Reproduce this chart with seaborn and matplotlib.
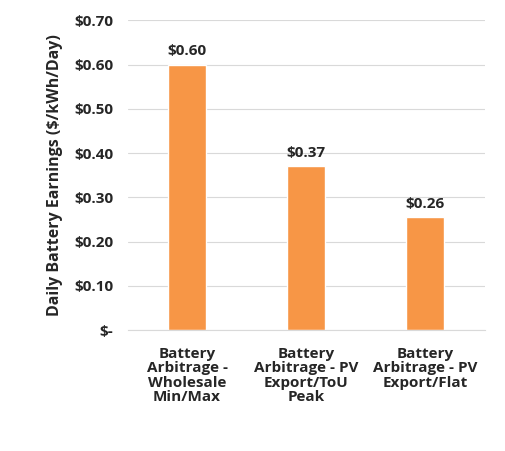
import seaborn as sns
import pandas as pd
import matplotlib.pyplot as plt
from matplotlib.ticker import FuncFormatter

categories = ['Battery\nArbitrage -\nWholesale\nMin/Max',
              'Battery\nArbitrage - PV\nExport/ToU\nPeak',
              'Battery\nArbitrage - PV\nExport/Flat']
earnings = [0.60, 0.37, 0.255]
labels = ['$0.60', '$0.37', '$0.26']

sns.set_style('white')
plt.rcParams['font.family'] = ['Open Sans', 'DejaVu Sans']

df = pd.DataFrame({'cat': categories, 'val': earnings})

fig = plt.figure(figsize=(5.06, 4.51), dpi=100)
ax = fig.add_axes([0.252, 0.268, 0.706, 0.687])

sns.barplot(data=df, x='cat', y='val', color='#F79646', saturation=1,
            width=0.32, ax=ax)

for i, (v, t) in enumerate(zip(earnings, labels)):
    ax.text(i, v + 0.015, t, ha='center', va='bottom', fontsize=11,
            fontweight='bold', color='#262626')

ax.set_ylim(0, 0.70)
ax.set_yticks([0, 0.1, 0.2, 0.3, 0.4, 0.5, 0.6, 0.7])
ax.yaxis.set_major_formatter(FuncFormatter(lambda y, _: '$-' if y == 0 else f'${y:.2f}'))
ax.grid(axis='y', color='#d9d9d9', linewidth=0.8)
ax.set_axisbelow(True)
for s in ['top', 'right', 'left']:
    ax.spines[s].set_visible(False)
ax.spines['bottom'].set_color('#d9d9d9')

ax.set_xlabel('')
ax.set_ylabel('Daily Battery Earnings ($/kWh/Day)', fontsize=11.5,
              fontweight='bold', color='#262626', labelpad=8)
ax.tick_params(axis='y', length=0, labelsize=11, colors='#262626', pad=10)
ax.tick_params(axis='x', length=0, labelsize=11, colors='#262626', pad=12)
for lab in ax.get_xticklabels():
    lab.set_fontweight('bold')
    lab.set_linespacing(1.05)
for lab in ax.get_yticklabels():
    lab.set_fontweight('bold')

plt.savefig('out.png', dpi=100)
